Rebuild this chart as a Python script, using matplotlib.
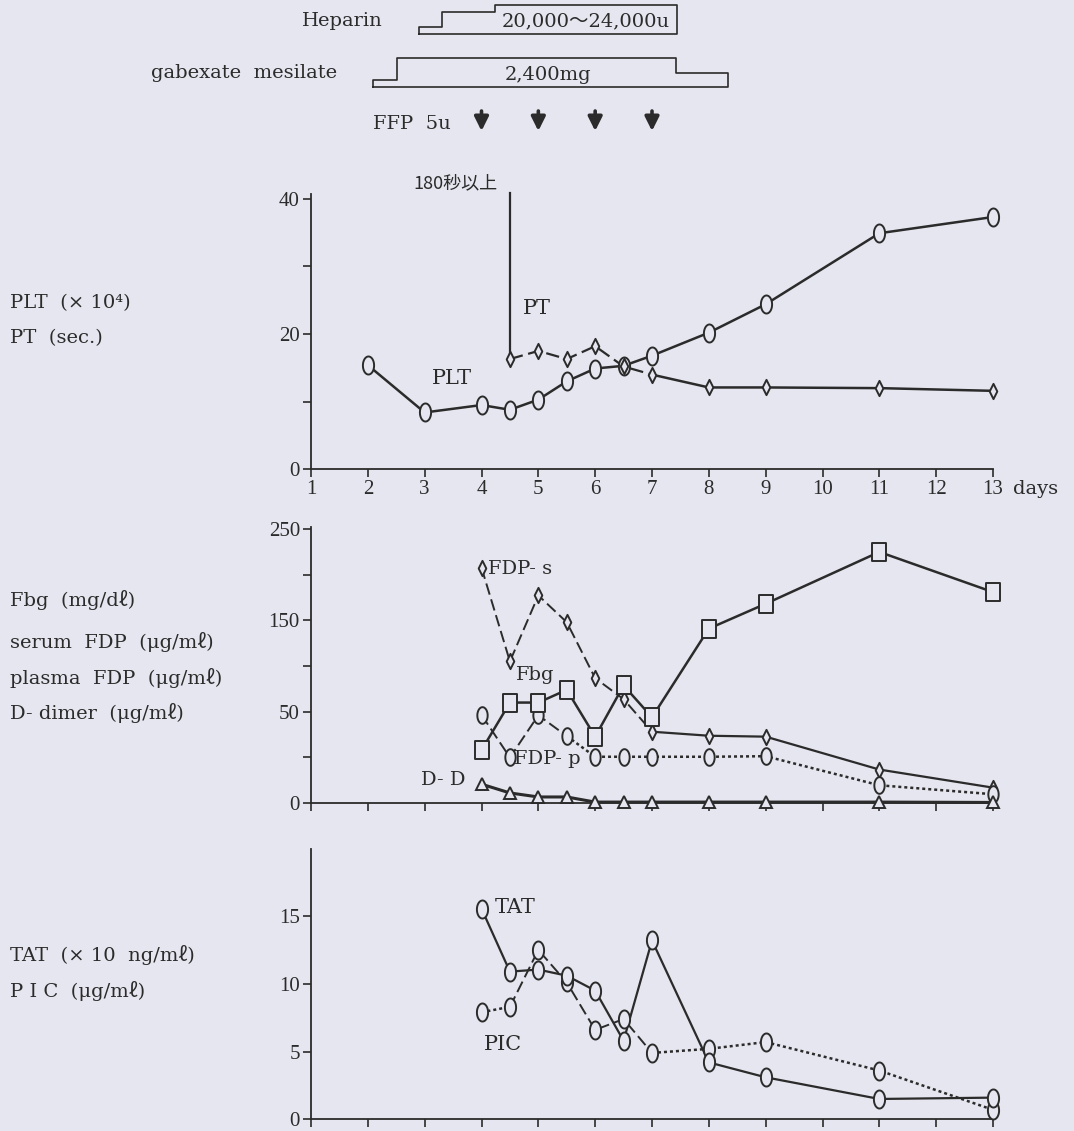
import numpy as np
import matplotlib
matplotlib.use("Agg")
import matplotlib.pyplot as plt
from matplotlib.path import Path

plt.rcParams['font.family'] = ['Liberation Serif', 'Noto Sans CJK JP', 'DejaVu Serif']

BG = '#e5e6ef'
INK = '#2b2b2b'
TXT = dict(family=['DejaVu Serif', 'Noto Sans CJK JP'], color=INK)

# ---- data ----
day_ticks = list(range(1, 14))

days_plt = [2, 3, 4, 4.5, 5, 5.5, 6, 6.5, 7, 8, 9, 11, 13]
plt_vals = [15.4, 8.4, 9.5, 8.8, 10.3, 13.0, 14.9, 15.3, 16.8, 20.2, 24.4, 34.9, 37.3]

days_pt = [4.5, 5, 5.5, 6, 6.5, 7, 8, 9, 11, 13]
pt_vals = [16.3, 17.5, 16.3, 18.2, 15.2, 14.0, 12.1, 12.1, 12.0, 11.6]
pt_over = 40.9   # PT off scale (180 sec or more) before day 4.5

days_lab = [4, 4.5, 5, 5.5, 6, 6.5, 7, 8, 9, 11, 13]
fbg = [28.9, 59.9, 59.9, 73.8, 36.3, 78.6, 46.9, 140.8, 168, 224.7, 180.8]
fdp_s = [207.5, 104.9, 177.1, 147.8, 86.6, 63.6, 39.0, 36.8, 36.3, 18.3, 8.4]
fdp_p = [48.2, 24.9, 48.0, 36.6, 25.3, 25.3, 25.3, 25.3, 25.6, 9.7, 4.8]
d_d = [10.3, 5.5, 3.3, 3.3, 0.5, 0.5, 0.5, 0.5, 0.5, 0.5, 0.3]

tat = [15.55, 10.9, 11.05, 10.6, 9.5, 5.8, 13.2, 4.2, 3.1, 1.5, 1.6]
pic = [7.9, 8.3, 12.5, 10.1, 6.6, 7.4, 4.9, 5.2, 5.7, 3.6, 0.7]

# treatment schedule (days)
heparin_days = [2.90, 3.31, 4.24, 7.44]
gabexate_days = [2.09, 2.51, 7.43, 8.34]
ffp_days = [4, 5, 6, 7]

# ---- markers ----
t = np.linspace(0, 2 * np.pi, 41)
ellipse = Path(np.column_stack([0.62 * np.cos(t), np.sin(t)]), closed=True)
rect = Path([[-0.75, -1], [0.75, -1], [0.75, 1], [-0.75, 1], [-0.75, -1]], closed=True)
diamond = Path([[0, -1], [0.5, 0], [0, 1], [-0.5, 0], [0, -1]], closed=True)

W, H = 1074, 1131
fig = plt.figure(figsize=(W / 100, H / 100), dpi=100, facecolor=BG)

x0 = 311 / W
xw = (993 - 311) / W


def make_axes(top_px, bottom_px):
    ax = fig.add_axes([x0, 1 - bottom_px / H, xw, (bottom_px - top_px) / H])
    ax.patch.set_alpha(0)
    for s in ['top', 'right']:
        ax.spines[s].set_visible(False)
    for s in ['left', 'bottom']:
        ax.spines[s].set_color(INK)
        ax.spines[s].set_linewidth(1.3)
    ax.set_xlim(1, 13)
    ax.set_xticks(day_ticks)
    ax.tick_params(direction='out', length=6, width=1.2, color=INK,
                   labelcolor=INK, labelsize=15, pad=2)
    return ax


def series(ax, x, y, marker, ms, segs):
    # segs: (first index, last index, linestyle, linewidth)
    for i0, i1, ls, lw in segs:
        ax.plot(x[i0:i1 + 1], y[i0:i1 + 1], color=INK, ls=ls, lw=lw, zorder=2,
                clip_on=False)
    ax.plot(x, y, ls='none', marker=marker, ms=ms, mfc=BG, mec=INK, mew=1.4,
            zorder=3, clip_on=False)


DASH = (0, (6, 2.5))
DOT = (0, (1.2, 1.2))

# ---- panel 1: PLT / PT ----
ax1 = make_axes(194, 469.3)
ax1.set_ylim(0, 40.7)
ax1.set_yticks([0, 10, 20, 30, 40])
ax1.set_yticklabels(['0', '', '20', '', '40'])
ax1.set_xticklabels([str(d) for d in day_ticks])
ax1.text(13.36, -0.07, 'days', transform=ax1.get_xaxis_transform(),
         ha='left', va='center', fontsize=14, **TXT)

series(ax1, days_plt, plt_vals, ellipse, 13, [(0, len(days_plt) - 1, '-', 1.8)])
ax1.plot([days_pt[0], days_pt[0]], [pt_over, pt_vals[0]], color=INK, lw=1.6,
         clip_on=False, zorder=2)
series(ax1, days_pt, pt_vals, diamond, 11, [(0, 5, DASH, 1.6), (5, 9, '-', 1.8)])
ax1.text(4.29, 42.3, '180秒以上', ha='right', va='center', fontsize=13, color=INK,
         family=['Noto Sans CJK JP'])
ax1.text(4.98, 23.7, 'PT', ha='center', va='center', fontsize=15, **TXT)
ax1.text(3.48, 13.4, 'PLT', ha='center', va='center', fontsize=15, **TXT)


# ---- panel 2: Fbg / FDP / D-dimer ----
def fwd(y):
    y = np.asarray(y, float)
    return np.where(y <= 50, 2 * y, y + 50)


def inv(z):
    z = np.asarray(z, float)
    return np.where(z <= 100, z / 2, z - 50)


ax2 = make_axes(527, 803)
ax2.set_yscale('function', functions=(fwd, inv))
ax2.set_ylim(0, 252)
ax2.set_yticks([0, 25, 50, 100, 150, 200, 250])
ax2.set_yticklabels(['0', '', '50', '', '150', '', '250'])
ax2.yaxis.set_minor_locator(matplotlib.ticker.NullLocator())
ax2.set_xticklabels([])

series(ax2, days_lab, fdp_s, diamond, 11, [(0, 6, DASH, 1.4), (6, 10, '-', 1.6)])
series(ax2, days_lab, fdp_p, ellipse, 12, [(0, 3, DASH, 1.4), (3, 10, DOT, 1.8)])
series(ax2, days_lab, d_d, '^', 8, [(0, 10, '-', 2.2)])
series(ax2, days_lab, fbg, rect, 13, [(0, 10, '-', 1.8)])
ax2.text(4.12, 205.7, 'FDP- s', ha='left', va='center', fontsize=14, **TXT)
ax2.text(4.6, 89.6, 'Fbg', ha='left', va='center', fontsize=14, **TXT)
ax2.text(4.57, 24.2, 'FDP- p', ha='left', va='center', fontsize=14, **TXT)
ax2.text(3.71, 12.6, 'D- D', ha='right', va='center', fontsize=14, **TXT)

# ---- panel 3: TAT / PIC ----
ax3 = make_axes(849, 1119.3)
ax3.set_ylim(0, 19.95)
ax3.set_yticks([0, 5, 10, 15])
ax3.set_xticklabels([])

series(ax3, days_lab, pic, ellipse, 13, [(0, 1, DOT, 1.8), (1, 6, DASH, 1.4),
                                         (6, 10, DOT, 1.8)])
series(ax3, days_lab, tat, ellipse, 13, [(0, 10, '-', 1.6)])
ax3.text(4.24, 15.6, 'TAT', ha='left', va='center', fontsize=15, **TXT)
ax3.text(4.05, 5.5, 'PIC', ha='left', va='center', fontsize=15, **TXT)

# ---- treatment strip (y in pixels from top) ----
axt = fig.add_axes([x0, 1 - 145 / H, xw, 145 / H])
axt.set_xlim(1, 13)
axt.set_ylim(145, 0)
axt.axis('off')

h = heparin_days
axt.plot([h[0], h[0], h[1], h[1], h[2], h[2], h[3], h[3], h[0]],
         [34, 27, 27, 12, 12, 5, 5, 34, 34], color=INK, lw=1.2, clip_on=False)
g = gabexate_days
axt.plot([g[0], g[0], g[1], g[1], g[2], g[2], g[3], g[3], g[0]],
         [87, 80, 80, 58, 58, 73, 73, 87, 87], color=INK, lw=1.2, clip_on=False)

axt.text(2.27, 21, 'Heparin', ha='right', va='center', fontsize=14, **TXT)
axt.text(5.84, 21, '20,000〜24,000u', ha='center', va='center', fontsize=14, **TXT)
axt.text(1.46, 73, 'gabexate  mesilate', ha='right', va='center', fontsize=14, **TXT)
axt.text(5.17, 75, '2,400mg', ha='center', va='center', fontsize=14, **TXT)
axt.text(2.09, 124, 'FFP  5u', ha='left', va='center', fontsize=14, **TXT)
for d in ffp_days:
    axt.annotate('', xy=(d, 131), xytext=(d, 111),
                 arrowprops=dict(arrowstyle='-|>,head_length=0.6,head_width=0.3',
                                 lw=2.6, color=INK, mutation_scale=14,
                                 shrinkA=0, shrinkB=0))

# ---- left-hand axis descriptions ----
left_labels = [
    (303, 'PLT  (× 10⁴)'), (338, 'PT  (sec.)'),
    (600, 'Fbg  (mg/dℓ)'), (642, 'serum  FDP  (μg/mℓ)'),
    (678, 'plasma  FDP  (μg/mℓ)'), (713, 'D- dimer  (μg/mℓ)'),
    (955, 'TAT  (× 10  ng/mℓ)'), (991, 'P I C  (μg/mℓ)'),
]
for ypx, s in left_labels:
    fig.text(10 / W, 1 - ypx / H, s, ha='left', va='center', fontsize=14, **TXT)

fig.savefig('out.png', dpi=100, facecolor=BG)
